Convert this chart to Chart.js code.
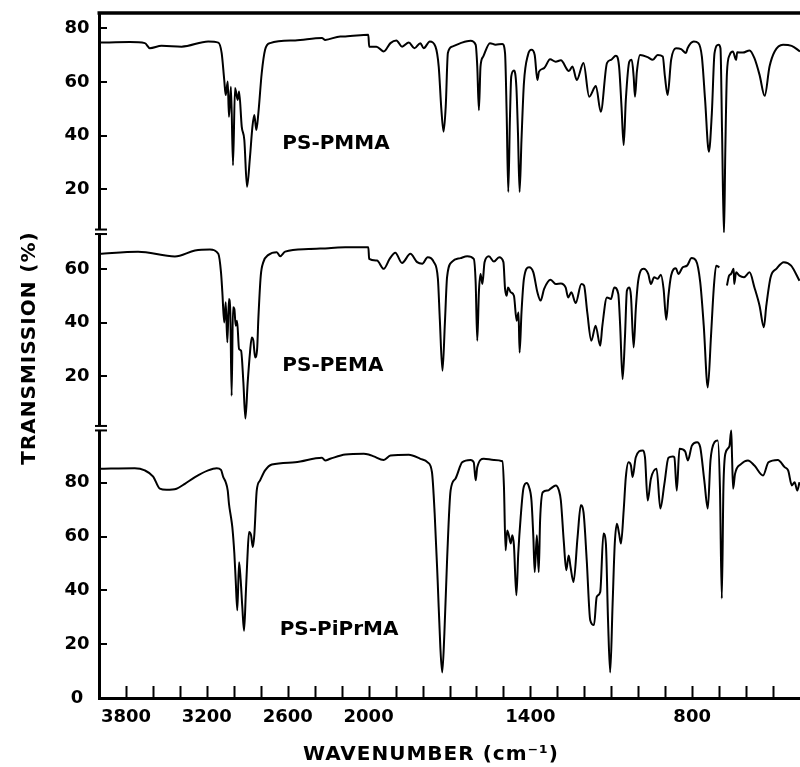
<!DOCTYPE html>
<html>
<head>
<meta charset="utf-8">
<script src="https://cdn.jsdelivr.net/npm/chart.js@4.4.0/dist/chart.umd.min.js"></script>
<style>
  html, body { margin: 0; padding: 0; background: #fff; }
  #wrap { width: 800px; height: 767px; }
</style>
</head>
<body>
<div id="wrap"><canvas id="ir" width="800" height="767"></canvas></div>
<script>
// Values: wavenumber (cm-1) and transmission (%).
var pmmaWave = [4000, 3772, 3660, 3623, 3536, 3387, 3190, 3115, 3090, 3071, 3060, 3045, 3036, 3021, 3006, 2991, 2971, 2961, 2941, 2922, 2902, 2880, 2862, 2848, 2833, 2818, 2793, 2768, 2731, 2545, 2346, 2322, 2210, 2173, 2002, 1998, 1971, 1944, 1919, 1897, 1876, 1851, 1830, 1808, 1796, 1773, 1752, 1740, 1730, 1722, 1714, 1706, 1690, 1659, 1622, 1603, 1597, 1591, 1585, 1575, 1550, 1529, 1504, 1494, 1488, 1482, 1476, 1471, 1461, 1452, 1446, 1440, 1433, 1424, 1409, 1396, 1384, 1374, 1368, 1349, 1327, 1306, 1287, 1257, 1244, 1228, 1203, 1182, 1157, 1139, 1116, 1101, 1083, 1071, 1062, 1054, 1046, 1033, 1024, 1017, 1012, 1005, 993, 965, 946, 928, 909, 901, 891, 878, 860, 841, 823, 817, 794, 777, 764, 752, 738, 727, 717, 702, 695, 689, 682, 677, 671, 661, 649, 637, 633, 612, 587, 569, 550, 531, 513, 494, 463, 431, 400];
var pmmaT = [74.6, 74.8, 74.4, 72.5, 73.4, 73.1, 75.0, 74.6, 70.7, 60.7, 55.1, 60.1, 47, 58.2, 29, 57.7, 53.3, 56.4, 43.3, 38.4, 21, 32.1, 43.3, 47.7, 42.1, 48.3, 63.2, 71.9, 74.4, 75.4, 76.3, 75.6, 76.9, 76.9, 77.5, 73.1, 73.1, 71.3, 74.4, 75.4, 73.1, 74.6, 72.5, 74.4, 72.5, 75.0, 73.1, 65.7, 49.5, 41.5, 50.8, 70.7, 73.1, 74.4, 75.3, 73.8, 65.7, 49.5, 65.7, 69.4, 74.4, 73.8, 74.1, 70.7, 48.3, 19.1, 45.8, 62, 64.2, 58.2, 40.8, 19.1, 38.4, 59.5, 70.0, 71.9, 70, 60.7, 63.8, 65.1, 68.4, 67.5, 68.0, 64.0, 65.7, 60.7, 67.0, 54.5, 58.5, 48.9, 67, 68.2, 69.7, 65.7, 50.8, 36.5, 53.3, 67.5, 68.2, 62.0, 54.5, 63.8, 70.0, 69.2, 68.2, 70.0, 69.4, 62.0, 55.1, 68.2, 72.5, 72.2, 70.7, 72.5, 75.0, 74.4, 69.4, 53.3, 34.0, 48.3, 70.7, 73.8, 72.5, 40.8, 3.0, 34.6, 63.2, 70, 71.3, 68.2, 71, 70.9, 71.7, 68.8, 62.6, 54.8, 65.7, 71.3, 73.8, 73.4, 71.3];

var pemaWave = [4000, 3710, 3437, 3288, 3177, 3115, 3095, 3085, 3071, 3060, 3048, 3036, 3026, 3016, 3006, 2996, 2986, 2976, 2961, 2946, 2929, 2914, 2897, 2880, 2867, 2855, 2842, 2827, 2818, 2800, 2781, 2743, 2681, 2656, 2619, 2446, 2297, 2173, 2002, 1998, 1969, 1944, 1922, 1901, 1876, 1845, 1820, 1801, 1781, 1758, 1743, 1736, 1726, 1717, 1709, 1690, 1659, 1634, 1610, 1603, 1597, 1591, 1585, 1578, 1570, 1554, 1535, 1516, 1500, 1494, 1488, 1483, 1473, 1461, 1451, 1444, 1440, 1433, 1424, 1405, 1389, 1374, 1362, 1349, 1325, 1306, 1287, 1269, 1260, 1248, 1232, 1211, 1201, 1189, 1174, 1158, 1141, 1133, 1116, 1101, 1089, 1074, 1067, 1058, 1049, 1042, 1033, 1027, 1017, 1009, 1000, 980, 963, 953, 941, 928, 916, 906, 896, 888, 878, 860, 851, 835, 819, 802, 786, 770, 757, 742, 730, 720, 711, 699, 690, 671, 663, 656, 646, 644, 637, 625, 608, 587, 569, 550, 534, 525, 509, 488, 460, 433, 402];
var pemaT = [65.6, 66.4, 64.6, 66.8, 67.2, 65.6, 58.7, 51.3, 40.1, 47.6, 32.7, 48.8, 43.8, 12.8, 45.7, 45.1, 38.9, 40.7, 30.2, 29.6, 17.8, 4.4, 17.8, 28.9, 34.5, 33.3, 27.1, 30.2, 41.4, 57.5, 62.5, 65.2, 66.2, 64.7, 66.4, 67.4, 67.7, 68, 68.0, 63.7, 63.1, 60, 63.7, 66, 62.2, 65.6, 62.5, 61.9, 64.3, 62.5, 56.3, 41.4, 22.1, 40.1, 56.9, 62.7, 64.0, 64.7, 63.7, 55, 33.3, 51.3, 58.1, 54.4, 62.5, 64.7, 62.7, 64.3, 62.5, 52.6, 50, 53.1, 51.3, 50, 40.7, 43.8, 28.9, 43.8, 56.3, 60.6, 58.7, 51.3, 48.2, 52.6, 56, 54.4, 54.6, 53.0, 49.4, 51.3, 47.3, 54.4, 53.8, 43.8, 33.3, 38.9, 31.4, 38.9, 49.4, 48.8, 53.1, 50.7, 38.9, 19.0, 35.2, 51.9, 53.1, 50, 30.8, 45.1, 55.6, 60, 58.1, 54.4, 56.9, 56.3, 57.8, 52.6, 41.1, 50, 57.5, 60.2, 58.1, 60.6, 61.2, 64, 63.1, 55, 38.9, 15.9, 35.2, 52.6, 61.2, 60.6, null, 53.8, 57.5, 58.1, 60, 54.4, 58.7, 57.5, 56.9, 58.7, 53.1, 46.3, 38.3, 46.3, 56.9, 60, 62.5, 61.2, 55.6];

var piprWave = [4000, 3735, 3660, 3598, 3549, 3499, 3425, 3363, 3288, 3190, 3127, 3095, 3078, 3060, 3045, 3036, 3021, 3011, 2996, 2986, 2974, 2961, 2949, 2937, 2924, 2911, 2900, 2887, 2872, 2859, 2848, 2830, 2805, 2768, 2718, 2545, 2346, 2322, 2285, 2173, 2036, 2000, 1981, 1944, 1919, 1851, 1808, 1781, 1765, 1755, 1744, 1734, 1727, 1719, 1709, 1696, 1678, 1653, 1622, 1610, 1603, 1597, 1573, 1535, 1504, 1498, 1492, 1486, 1480, 1473, 1467, 1461, 1452, 1445, 1436, 1426, 1414, 1405, 1396, 1389, 1384, 1376, 1369, 1364, 1354, 1336, 1325, 1306, 1294, 1287, 1276, 1267, 1258, 1251, 1240, 1225, 1213, 1203, 1191, 1178, 1164, 1154, 1141, 1129, 1120, 1112, 1104, 1095, 1087, 1079, 1071, 1064, 1054, 1046, 1036, 1027, 1021, 1009, 984, 975, 965, 953, 932, 918, 903, 888, 872, 866, 857, 847, 826, 816, 801, 782, 770, 755, 742, 732, 717, 705, 697, 690, 684, 677, 662, 655, 652, 648, 641, 618, 593, 569, 537, 517, 482, 457, 444, 430, 420, 410, 402];
var piprT = [85.2, 85.4, 84.6, 82.3, 77.8, 77.4, 77.8, 79.6, 82.1, 84.6, 85.4, 84.8, 82.1, 80.2, 77.1, 72.2, 67.2, 63.5, 53.7, 43.8, 32.6, 50.5, 43.8, 33.9, 25.0, 38.8, 51.2, 61.7, 60.5, 56.1, 60.5, 77.1, 80.9, 84.6, 86.8, 87.6, 89.3, 88.3, 88.9, 90.5, 90.8, 90.5, 89.8, 88.5, 90.1, 90.4, 88.9, 87.6, 83.9, 68.5, 43.8, 19.0, 9.5, 24.0, 51.2, 77.1, 81.5, 87.6, 88.5, 87.6, 80.9, 85.8, 88.9, 88.5, 88, 78.4, 54.9, 62.3, 60.5, 57.4, 60.5, 56.7, 38.2, 53.7, 67.2, 77.8, 79.9, 78.4, 73.4, 59.8, 46.8, 60.5, 46.8, 66, 76.5, 77.1, 77.8, 79, 77.1, 73.4, 58, 47.5, 53, 48.7, 43.1, 59.8, 71.6, 69.1, 51.2, 28.9, 27.1, 37.6, 39.4, 61.1, 57.4, 28.9, 9.5, 35.1, 57.4, 64.8, 61.1, 57.4, 69.7, 82.1, 87.6, 86.4, 82.1, 89.5, 92, 89.5, 73.4, 81.5, 85.2, 70.4, 79.6, 89.3, 89.8, 89.5, 77.1, 92.6, 91.7, 88.3, 93.8, 95.1, 93.2, 80.9, 70.4, 88.3, 95.1, 95.7, 78.4, 37.0, 78.4, 90.8, 93.5, 99.4, 89.5, 77.8, 83.3, 87, 88.3, 86.4, 82.7, 87.6, 88.5, 85.8, 84.6, 79, 80.2, 77.1, 80.2];

var xLabels = [3800, 3200, 2600, 2000, 1400, 800];
var topTicks = [20, 40, 60, 80];
var midTicks = [20, 40, 60];
var botTicks = [0, 20, 40, 60, 80];
var panelNames = ["PS-PMMA", "PS-PEMA", "PS-PiPrMA"];

// chart paper: one division = 200 cm-1 above 2000, 100 cm-1 below
function toDiv(w) {
    return w >= 2000 ? (4000 - w) / 200 : 10 + (2000 - w) / 100;
}
function fromDiv(d) {
    return d <= 10 ? 4000 - d * 200 : 2000 - (d - 10) * 100;
}
function series(waves, vals) {
    return waves.map(function (w, i) { return { x: toDiv(w), y: vals[i] }; });
}

var divisions = [];
for (var d = 1; d <= 25; d++) divisions.push(d);

var FONT = '"DejaVu Sans", sans-serif';

function yAxis(min, max, ticks, weight) {
    return {
        type: 'linear',
        position: 'left',
        stack: 'ir',
        stackWeight: max - min,
        weight: weight,
        min: min,
        max: max,
        grid: { display: false, drawTicks: false },
        border: { display: true, width: 3, color: '#000' },
        ticks: {
            color: '#000',
            padding: 9.5,
            crossAlign: 'center',
            font: { family: FONT, size: 18, weight: 'bold' }
        },
        afterBuildTicks: function (scale) {
            scale.ticks = ticks.map(function (v) { return { value: v }; });
        },
        afterFit: function (scale) {
            scale.width = 99;
            scale.paddingTop = 0;
            scale.paddingBottom = 0;
        }
    };
}

function trace(data, axis) {
    return {
        data: data,
        yAxisID: axis,
        borderColor: '#000',
        borderWidth: 2,
        pointRadius: 0,
        fill: false,
        spanGaps: false,
        cubicInterpolationMode: 'monotone'
    };
}

// frame top line, inward ticks, axis breaks, titles and sample names
var decor = {
    id: 'decor',
    afterDraw: function (chart) {
        var ctx = chart.ctx, a = chart.chartArea, s = chart.scales;
        ctx.save();
        ctx.strokeStyle = '#000';
        ctx.fillStyle = '#000';

        ctx.lineWidth = 3.5;
        ctx.beginPath();
        ctx.moveTo(a.left - 1.5, a.top);
        ctx.lineTo(a.right, a.top);
        ctx.stroke();

        ctx.lineWidth = 2;
        ctx.beginPath();
        s.x.ticks.forEach(function (t) {
            var px = Math.round(s.x.getPixelForValue(t.value)) + 0.5;
            ctx.moveTo(px, a.bottom);
            ctx.lineTo(px, a.bottom - 12);
        });
        ['yTop', 'yMid', 'yBot'].forEach(function (id) {
            var sc = s[id];
            sc.ticks.forEach(function (t) {
                if (t.value === 0) return;
                var py = Math.round(sc.getPixelForValue(t.value));
                ctx.moveTo(a.left, py);
                ctx.lineTo(a.left + 8, py);
            });
        });
        ctx.stroke();

        [s.yTop.bottom, s.yMid.bottom].forEach(function (yb) {
            ctx.fillStyle = '#fff';
            ctx.fillRect(a.left - 3, yb - 3, 6, 4);
            ctx.fillStyle = '#000';
            ctx.fillRect(a.left - 4, yb - 4, 12, 2);
            ctx.fillRect(a.left - 4, yb + 0.5, 12, 2);
        });

        ctx.font = 'bold 20px ' + FONT;
        ctx.textBaseline = 'middle';
        try { ctx.letterSpacing = '1px'; } catch (e) {}
        ctx.textAlign = 'center';
        ctx.fillText('WAVENUMBER (cm\u207B\u00B9)', 431, 755);
        ctx.save();
        ctx.translate(30, 348);
        ctx.rotate(-Math.PI / 2);
        ctx.fillText('TRANSMISSION (%)', 0, 0);
        ctx.restore();
        try { ctx.letterSpacing = '0px'; } catch (e) {}

        ctx.textAlign = 'left';
        var anchors = [[2640, 'yTop', 37.1], [2640, 'yMid', 23.8], [2660, 'yBot', 25.2]];
        anchors.forEach(function (p, i) {
            ctx.fillText(panelNames[i], s.x.getPixelForValue(toDiv(p[0])), s[p[1]].getPixelForValue(p[2]));
        });
        ctx.restore();
    }
};

new Chart(document.getElementById('ir'), {
    type: 'line',
    data: {
        datasets: [
            trace(series(pmmaWave, pmmaT), 'yTop'),
            trace(series(pemaWave, pemaT), 'yMid'),
            trace(series(piprWave, piprT), 'yBot')
        ]
    },
    options: {
        responsive: false,
        animation: false,
        devicePixelRatio: 1,
        layout: { padding: { top: 13, left: 0, right: 0, bottom: 0 } },
        plugins: { legend: { display: false }, tooltip: { enabled: false } },
        scales: {
            x: {
                type: 'linear',
                min: 0,
                max: 26,
                grid: { display: false, drawTicks: false },
                border: { display: true, width: 3, color: '#000' },
                ticks: {
                    color: '#000',
                    padding: 9,
                    autoSkip: false,
                    maxRotation: 0,
                    font: { family: FONT, size: 18, weight: 'bold' },
                    callback: function (v) {
                        var w = Math.round(fromDiv(v));
                        return xLabels.indexOf(w) >= 0 ? String(w) : '';
                    }
                },
                afterBuildTicks: function (scale) {
                    scale.ticks = divisions.map(function (v) { return { value: v }; });
                },
                afterFit: function (scale) {
                    scale.height = 69;
                    scale.paddingLeft = 0;
                    scale.paddingRight = 0;
                }
            },
            yBot: yAxis(0, 100, botTicks, 1),
            yMid: yAxis(0.5, 73.5, midTicks, 2),
            yTop: yAxis(4, 85.6, topTicks, 3)
        }
    },
    plugins: [decor]
});
</script>
</body>
</html>
